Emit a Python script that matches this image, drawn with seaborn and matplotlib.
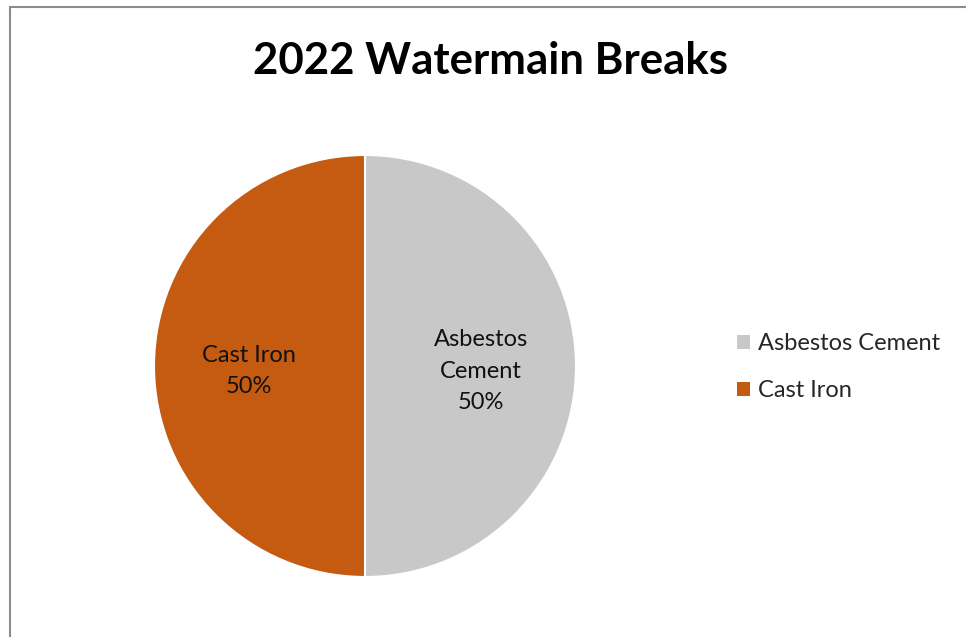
import matplotlib
matplotlib.use("Agg")
import matplotlib.pyplot as plt
from matplotlib.lines import Line2D
from matplotlib.patches import Patch
import seaborn as sns

# Watermain breaks in 2022 by pipe material
categories = ["Asbestos Cement", "Cast Iron"]
slice_labels = ["Asbestos\nCement", "Cast Iron"]
breaks = [1, 1]
colors = ["#C8C8C8", "#C55A11"]
title = "2022 Watermain Breaks"

sns.set_theme(style="white")
plt.rcParams["font.family"] = ["Lato", "DejaVu Sans"]

W, H = 966, 637
fig = plt.figure(figsize=(W / 100, H / 100), dpi=100)
fig.patch.set_facecolor("white")

# Pie axes: centre (365, 366) px, radius 211 px
cx, cy, r = 365, 366, 211
ax = fig.add_axes([(cx - r) / W, (H - cy - r) / H, 2 * r / W, 2 * r / H])

total = sum(breaks)
labels = [f"{lab}\n{v / total * 100:.0f}%" for lab, v in zip(slice_labels, breaks)]
wedges, texts = ax.pie(
    breaks,
    colors=colors,
    startangle=90,
    counterclock=False,
    labels=labels,
    labeldistance=0.55,
    radius=1,
    wedgeprops=dict(edgecolor="white", linewidth=1.5),
    textprops=dict(fontsize=17, color="#111111", linespacing=1.63),
)
for t in texts:
    t.set_ha("center")
    t.set_va("center")
    x, y = t.get_position()
    t.set_position((x, y - 0.024))
ax.set_xlim(-1, 1)
ax.set_ylim(-1, 1)
ax.set_aspect("equal")
ax.axis("off")

fig.text(490 / W, 1 - 61 / H, title, ha="center", va="center",
         fontsize=31.5, fontweight="bold", color="black")

handles = [Patch(facecolor=c, edgecolor="none") for c in colors]
fig.legend(handles, categories, loc="center left",
           bbox_to_anchor=(728 / W, 1 - 367 / H), frameon=False,
           fontsize=17, handlelength=0.55, handleheight=0.55,
           handletextpad=0.3, labelspacing=1.1, borderaxespad=0)

# chart-area border along the left and top edges
fig.add_artist(Line2D([10 / W, 10 / W], [0, 1 - 7 / H], transform=fig.transFigure,
                      color="#8c8c8c", linewidth=1.5))
fig.add_artist(Line2D([10 / W, 1], [1 - 7 / H, 1 - 7 / H], transform=fig.transFigure,
                      color="#8c8c8c", linewidth=1.5))

fig.savefig("out.png", dpi=100, facecolor="white")
